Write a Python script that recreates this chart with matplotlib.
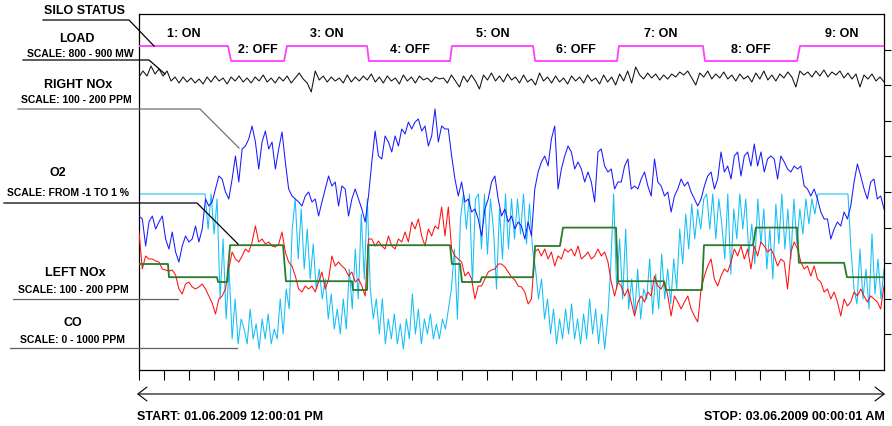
import numpy as np
import matplotlib
matplotlib.use("Agg")
import matplotlib.pyplot as plt
from matplotlib.lines import Line2D
from matplotlib.patches import FancyArrowPatch

# ---------------- data (time axis: hours since start, 36 h total) ----------------
start_label = "START: 01.06.2009 12:00:01 PM"
stop_label = "STOP: 03.06.2009 00:00:01 AM"
total_hours = 36.0

silo_hours = [0, 4.30, 4.45, 7.01, 7.15, 11.02, 11.11, 15.03, 15.12, 19.04, 19.14,
              23.10, 23.19, 27.25, 27.35, 31.80, 31.94, 36.0]
silo_on = [1, 1, 0, 0, 1, 1, 0, 0, 1, 1, 0, 0, 1, 1, 0, 0, 1, 1]
silo_labels = ["1: ON", "2: OFF", "3: ON", "4: OFF", "5: ON", "6: OFF", "7: ON", "8: OFF", "9: ON"]

load_mw = [866, 878, 868, 888, 872, 882, 868, 878, 858, 866, 854, 866, 856, 864, 854, 862, 852, 866, 856, 868,
           858, 864, 852, 866, 858, 868, 856, 864, 854, 866, 858, 870, 856, 864, 854, 866, 858, 868, 854, 864,
           874, 862, 854, 836, 878, 860, 868, 856, 866, 858, 864, 854, 870, 856, 866, 858, 868, 860, 872, 856,
           866, 854, 868, 858, 864, 852, 870, 858, 866, 854, 868, 860, 864, 856, 866, 862, 864, 854, 870, 858,
           846, 868, 856, 870, 858, 842, 870, 860, 874, 858, 868, 856, 872, 860, 866, 854, 870, 856, 862, 850,
           874, 858, 866, 854, 868, 856, 864, 852, 868, 858, 866, 854, 870, 858, 864, 852, 870, 856, 866, 850,
           872, 858, 878, 854, 886, 870, 862, 874, 864, 872, 860, 870, 862, 872, 866, 876, 870, 878, 864, 850,
           874, 866, 878, 862, 872, 864, 876, 862, 870, 858, 872, 862, 868, 856, 874, 862, 878, 860, 870, 858,
           872, 864, 876, 866, 846, 878, 870, 876, 866, 878, 868, 880, 866, 876, 870, 878, 864, 874, 862, 872,
           846, 870, 862, 872, 858, 866, 856]

right_nox_ppm = [141.5, 140, 126.5, 138.5, 141.5, 135, 138.5, 141.5, 130, 125, 133.5, 123.5, 118.5, 126.5, 131.5,
                 128.5, 130, 136.5, 128.5, 135, 150, 146.5, 148.5, 155, 161.5, 160, 153.5, 150, 160, 171.5,
                 158.5, 175, 176.5, 180, 186.5, 178.5, 165, 178.5, 184, 175, 178.5, 165, 175, 183.5, 168.5,
                 155, 151.5, 150, 148.5, 146.5, 151.5, 153.5, 148.5, 150, 141.5, 148.5, 155, 161.5, 156.5, 158.5,
                 146.5, 156.5, 155, 141.5, 150, 155, 150, 145, 138.5, 151.5, 168.5, 184, 171.5, 170, 181.5,
                 178.5, 173.5, 181.5, 176.5, 185, 182.5, 188.5, 185, 188.5, 190, 184, 186.5, 176.5, 181.5, 195,
                 178.5, 186.5, 185, 185, 171.5, 160, 151.5, 158.5, 148.5, 150, 143.5, 145, 140, 131.5, 145,
                 150, 158.5, 161.5, 150, 141.5, 145, 138.5, 141.5, 135, 138.5, 136.5, 130, 138.5, 131.5, 155,
                 163.5, 168.5, 171.5, 166.5, 180, 186.5, 155, 165, 171.5, 176.5, 173.5, 165, 168.5, 165, 158.5,
                 163.5, 158.5, 148.5, 173.5, 175, 166.5, 163.5, 165, 155, 158.5,
                 158.5, 166.5, 170, 155, 156.5, 155, 160, 163.5, 156.5, 151.5, 170, 158.5, 156.5, 151.5, 153.5,
                 143.5, 151.5, 155, 160, 156.5, 158.5, 153.5, 150, 146.5, 150, 156.5, 161.5, 163.5, 155, 160,
                 173.5, 163.5, 166.5, 160, 171.5, 173.5, 161.5, 171.5, 173.5, 166.5, 177.5, 166.5, 173.5, 163.5, 170,
                 171.5, 170, 160, 171.5, 168.5, 165, 163.5, 166.5, 165, 166.5, 156.5, 155, 151.5, 155, 150,
                 143.5, 140, 140, 130, 135, 138.5, 136.5, 143.5, 140, 146.5, 158.5, 167.5, 161.5, 155, 150,
                 158.5, 160, 150, 151.5, 145]

left_nox_ppm = [153.5, 135, 141.5, 140, 140, 139, 138.5, 135, 134.5, 134, 134.5, 132, 125, 122.5, 127.5,
                128.5, 126, 125, 126, 127.5, 125, 121.5, 118, 112.5, 120, 121.5, 125, 135, 143.5, 140,
                138.5, 141.5, 145, 143.5, 148.5, 156.5, 148.5, 150, 147.5, 148.5, 146.5, 146, 147.5, 153.5, 143.5,
                138.5, 136.5, 131.5, 125, 123.5, 126.5, 125, 126.5, 123.5, 128.5, 133.5, 125, 130, 141.5, 136.5,
                138.5, 136.5, 135, 131.5, 133.5, 128.5, 130, 126.5, 121.5, 150, 150, 146.5, 149, 146.5, 145,
                151.5, 146.5, 145, 150, 148.5, 153.5, 148.5, 158.5, 155, 160, 151.5, 146.5, 155, 151.5, 156.5,
                155, 166, 151.5, 166, 145, 141.5, 140, 138.5, 131.5, 133.5, 130, 120, 126.5, 126.5, 130,
                133.5, 134.5, 135, 137.5, 137.5, 136, 133.5, 131, 129.5, 126.5, 126, 123.5, 117.5, 120, 143.5,
                145, 141.5, 145, 140, 143.5, 136.5, 141.5, 140, 145, 143.5, 145, 141.5, 146.5, 140, 141.5,
                143.5, 140, 141.5, 145, 141.5, 143.5, 138.5, 128.5, 121.5, 128.5,
                126.5, 121.5, 125, 118.5, 111.5, 118.5, 121.5, 118.5, 123.5, 121.5, 131.5, 126.5, 125, 128.5, 121.5,
                111.5, 121.5, 118.5, 115, 118.5, 121.5, 115, 111.5, 108.5, 125, 131.5, 136.5, 140, 130, 126.5,
                131.5, 135, 133.5, 138.5, 145, 141.5, 146.5, 140, 145, 135, 146.5, 141.5, 148.5, 146.5, 143.5,
                145, 141.5, 136.5, 140, 138.5, 125, 143.5, 148.5, 145, 138.5, 135, 136.5, 131.5, 136.5, 130,
                128.5, 123.5, 125, 120, 123.5, 118.5, 111.5, 120, 116.5, 118.5, 123.5, 121.5, 125, 121.5, 118.5,
                121.5, 120, 118.5, 115, 126.5]

o2_hours = [0, 1.40, 1.45, 3.77, 3.82, 4.25, 4.40, 6.96, 7.10, 10.29, 10.34, 11.02, 11.07, 15.03, 15.12,
            15.51, 15.61, 16.48, 16.57, 19.04, 19.14, 20.34, 20.49, 23.05, 23.15, 25.37, 25.47, 27.20, 27.30,
            29.67, 29.81, 31.80, 31.89, 34.07, 34.21, 36.0]
o2_pct = [-0.125, -0.125, -0.29, -0.29, -0.35, -0.35, 0.11, 0.11, -0.34, -0.34, -0.45, -0.45, 0.11, 0.11,
          -0.125, -0.125, -0.35, -0.35, -0.29, -0.29, 0.10, 0.10, 0.33, 0.33, -0.34, -0.34, -0.45, -0.45,
          0.11, 0.11, 0.33, 0.33, -0.11, -0.11, -0.29, -0.29]

co_ppm = [1000] * 23 + [
    781, 1000, 750, 969, 344, 719, 219, 531, 94, 344, 63, 219, 156, 63, 281, 94, 188, 31, 219, 94,
    250, 63, 156, 94, 344, 125, 406, 281, 781, 969, 594, 906, 531, 781, 469, 688, 406, 531, 344, 469,
    219, 375, 156, 281, 125, 344, 156, 531, 281, 656, 344, 875, 469, 969, 406, 219, 344, 125, 344, 63,
    219, 94, 250, 63, 188, 31, 219, 94, 375, 125, 281, 63, 219, 125, 250, 94, 188, 94, 219, 156,
    281, 406, 656, 219, 844, 1000, 781, 1000, 438, 969, 1000, 656, 1000, 625, 969, 781, 406, 906, 594, 1000,
    656, 969, 719, 969, 750, 1000, 688, 938, 656, 531, 344, 469, 219, 344, 125, 281, 63, 219, 94,
    281, 125, 313, 94, 219, 63, 250, 94, 344, 125, 281, 63, 250, 31, 219, 531, 1000, 406, 719, 344,
    781, 281, 469, 250, 531, 219, 406, 344, 594, 250, 500, 281, 625, 344, 531, 313, 594, 406, 781, 563,
    875, 656, 938, 719, 906, 781, 969, 1000, 781, 1000, 719, 969, 813, 594, 1000, 500, 906, 719, 1000, 781,
    969, 625, 813, 563, 969, 688, 906, 531, 781, 469, 938, 688, 1000, 656, 906, 594, 969, 688, 906, 750,
    969, 813, 969, 875] + [1000] * 11 + [656, 406, 313, 656, 344, 531, 281, 750, 375, 594, 344, 531]

# ---------------- layout helpers ----------------
W, H = 892, 427


def band(values, v_lo, v_hi, row_lo, row_hi):
    v = np.asarray(values, dtype=float)
    return row_lo + (v - v_lo) / (v_hi - v_lo) * (row_hi - row_lo)


def fx(px):
    return px / W


def fy(py):
    return 1 - py / H


fig = plt.figure(figsize=(W / 100, H / 100), dpi=100)
fig.patch.set_facecolor("white")
ax = fig.add_axes([fx(139), fy(371), 745 / W, 356 / H])
ax.set_xlim(0, total_hours)
ax.set_ylim(371, 15)
for s in ax.spines.values():
    s.set_linewidth(0.9)
    s.set_color("black")

FONT = "Liberation Sans"

# series
t_co = np.linspace(0, total_hours, len(co_ppm))
ax.plot(t_co, band(co_ppm, 0, 1000, 355, 195), color="#14bff5", lw=0.75, zorder=2)

t_nox = np.linspace(0, total_hours, len(left_nox_ppm))
ax.plot(t_nox, band(left_nox_ppm, 100, 200, 340, 140), color="#ff1010", lw=0.75, zorder=3)
ax.plot(np.linspace(0, total_hours, len(right_nox_ppm)), band(right_nox_ppm, 100, 200, 300, 100),
        color="#1a1aff", lw=0.75, zorder=4)
ax.plot(o2_hours, band(o2_pct, -1, 1, 335, 175), color="#2a7a2a", lw=1.3, zorder=5)
ax.plot(np.linspace(0, total_hours, len(load_mw)), band(load_mw, 800, 900, 111, 61),
        color="#111111", lw=0.75, zorder=6)
silo_rows = band(silo_on, 0, 1, 62, 47)
ax.plot(silo_hours, silo_rows, color="#ff40ff", lw=1.3, zorder=6)

# silo labels
bounds = [silo_hours[0]] + [(silo_hours[i] + silo_hours[i + 1]) / 2
                            for i in range(1, len(silo_hours) - 1, 2)] + [silo_hours[-1]]
for k, lab in enumerate(silo_labels):
    xc = (bounds[k] + bounds[k + 1]) / 2
    row = 34 if lab.endswith("ON") else 50
    ax.text(xc, row, lab, ha="center", va="center", fontsize=9, fontweight="bold", family=FONT)

# ticks
ax.set_xticks(np.arange(30) * (total_hours / 30))
ax.tick_params(axis="x", direction="out", length=7.2, width=0.8, labelbottom=False)
ax.yaxis.tick_right()
ax.set_yticks([15 + 35.6 * k for k in range(1, 10)])
ax.tick_params(axis="y", direction="out", length=5, width=0.8, labelright=False, left=False)

# left labels
labels = [
    ("SILO STATUS", 85, 11, 9), ("LOAD", 77, 39, 9), ("SCALE: 800 - 900 MW", 80, 54, 7.5),
    ("RIGHT NOx", 78, 85, 9), ("SCALE: 100 - 200 PPM", 76, 100, 7.5),
    ("O2", 58, 173, 9), ("SCALE: FROM -1 TO 1 %", 68, 193, 7.5),
    ("LEFT NOx", 75, 273, 9), ("SCALE: 100 - 200 PPM", 73, 290, 7.5),
    ("CO", 73, 323, 9), ("SCALE: 0 - 1000 PPM", 73, 340, 7.5),
]
for txt, x, y, fs in labels:
    fig.text(fx(x), fy(y), txt, ha="center", va="center", fontsize=fs, fontweight="bold", family=FONT)

leaders = [
    ([43, 129, 154], [21, 21, 47], "black"),
    ([23, 149, 165], [61, 61, 75], "black"),
    ([18, 200, 239], [110, 110, 149], "#707070"),
    ([4, 197, 238], [204, 204, 245], "black"),
    ([13, 178], [300, 300], "#606060"),
    ([10, 237], [349, 349], "#606060"),
]
for xs, ys, c in leaders:
    fig.add_artist(Line2D([fx(v) for v in xs], [fy(v) for v in ys], transform=fig.transFigure,
                          color=c, lw=0.9, zorder=10))

# time arrow and labels
arrow = FancyArrowPatch((fx(137), fy(395)), (fx(885), fy(395)), transform=fig.transFigure,
                        arrowstyle="<->,head_length=0.65,head_width=0.5", mutation_scale=10,
                        lw=0.8, color="black", shrinkA=0, shrinkB=0)
fig.add_artist(arrow)
fig.text(fx(137), fy(417), start_label, ha="left", va="center", fontsize=9, fontweight="bold", family=FONT)
fig.text(fx(885), fy(417), stop_label, ha="right", va="center", fontsize=9, fontweight="bold", family=FONT)

fig.savefig("out.png", dpi=100)
